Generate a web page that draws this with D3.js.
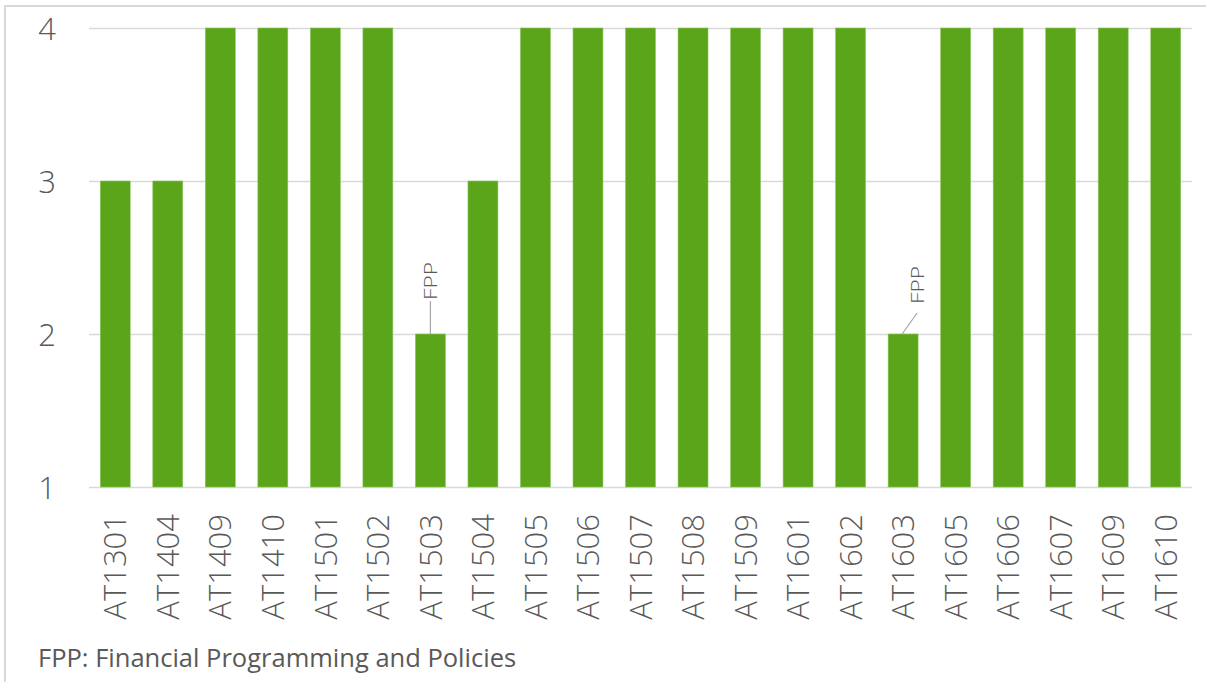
<!DOCTYPE html>
<meta charset="utf-8">
<style>

body {
  margin: 0;
  background: #fff;
}

svg {
  font-family: "Open Sans", sans-serif;
}

</style>
<svg width="1206" height="682"></svg>
<script src="https://d3js.org/d3.v7.min.js"></script>
<script>

var categories = ["AT1301", "AT1404", "AT1409", "AT1410", "AT1501", "AT1502", "AT1503",
  "AT1504", "AT1505", "AT1506", "AT1507", "AT1508", "AT1509", "AT1601", "AT1602",
  "AT1603", "AT1605", "AT1606", "AT1607", "AT1609", "AT1610"];

var values = [3, 3, 4, 4, 4, 4, 2, 3, 4, 4, 4, 4, 4, 4, 4, 2, 4, 4, 4, 4, 4];

var yTicks = [1, 2, 3, 4];

var notes = [
  {category: "AT1503", label: "FPP"},
  {category: "AT1603", label: "FPP"}
];

var footnote = "FPP: Financial Programming and Policies";

</script>
<script>

var svg = d3.select("svg");

var margin = {top: 28, right: 14, bottom: 195, left: 89},
    width = 1206 - margin.left - margin.right,
    height = 682 - margin.top - margin.bottom;

// outer frame (only top and left edges show in the picture)
svg.append("path")
    .attr("fill", "none")
    .attr("stroke", "#d9d9d9")
    .attr("stroke-width", 2)
    .attr("d", "M5,682V6H1206");

var g = svg.append("g")
    .attr("transform", "translate(" + margin.left + "," + margin.top + ")");

var x = d3.scaleBand()
    .domain(categories)
    .range([0, width])
    .paddingInner(0.43)
    .paddingOuter(0.215);

var y = d3.scaleLinear()
    .domain([1, 4])
    .range([height, 0]);

var yAxis = g.append("g")
    .call(d3.axisLeft(y).tickValues(yTicks).tickSize(-width).tickFormat(d3.format("d")))
    .attr("font-family", null);

yAxis.select(".domain").remove();
yAxis.selectAll(".tick line")
    .attr("stroke", "#d9d9d9")
    .attr("stroke-width", 1.5);
yAxis.selectAll(".tick text")
    .attr("x", -42)
    .attr("dy", "0.36em")
    .attr("text-anchor", "middle")
    .attr("fill", "#595959")
    .style("font-family", "'Open Sans', sans-serif")
    .style("font-weight", 300)
    .style("font-size", "31px");

g.selectAll(".bar")
  .data(values)
  .enter().append("rect")
    .attr("class", "bar")
    .attr("x", function(d, i) { return x(categories[i]); })
    .attr("y", function(d) { return y(d); })
    .attr("width", x.bandwidth())
    .attr("height", function(d) { return y(1) - y(d); })
    .attr("fill", "#5aa519")
    .attr("stroke", "#8cc45e")
    .attr("stroke-width", 0.6);

var xAxis = g.append("g")
    .attr("transform", "translate(0," + height + ")")
    .call(d3.axisBottom(x).tickSize(0))
    .attr("font-family", null);

xAxis.select(".domain").remove();
xAxis.selectAll(".tick text")
    .attr("transform", "rotate(-90)")
    .attr("x", -27)
    .attr("y", 0)
    .attr("dy", "0.36em")
    .attr("text-anchor", "end")
    .attr("fill", "#595959")
    .style("font-family", "'Open Sans', sans-serif")
    .style("font-weight", 300)
    .style("font-size", "31px");

// data callouts
notes.forEach(function(n, k) {
  var i = categories.indexOf(n.category),
      cx = x(n.category) + x.bandwidth() / 2,
      top = y(values[i]);
  var tx = k === 0 ? cx : cx + 14;
  g.append("line")
      .attr("x1", k === 0 ? cx : cx - 1)
      .attr("y1", top)
      .attr("x2", tx)
      .attr("y2", k === 0 ? top - 33 : top - 21)
      .attr("stroke", "#a6a6a6")
      .attr("stroke-width", 1.2);
  g.append("text")
      .attr("transform", "translate(" + tx + "," + (k === 0 ? top - 34 : top - 30) + ") rotate(-90)")
      .attr("dy", "0.36em")
      .attr("fill", "#595959")
      .attr("textLength", 38)
      .attr("lengthAdjust", "spacingAndGlyphs")
      .style("font-weight", 300)
      .style("font-size", "18px")
      .text(n.label);
});

svg.append("text")
    .attr("x", 38)
    .attr("y", 667)
    .attr("fill", "#595959")
    .style("font-size", "25.5px")
    .text(footnote);

</script>
